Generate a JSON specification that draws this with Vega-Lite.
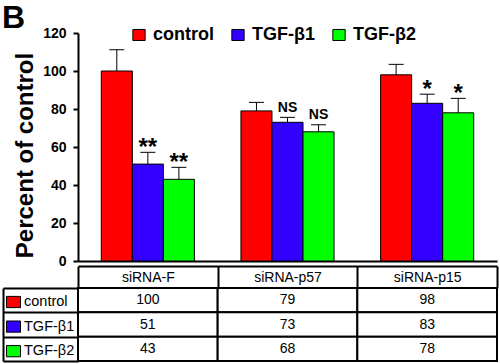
{
  "$schema": "https://vega.github.io/schema/vega-lite/v6.json",
  "padding": {"left": 2, "right": 2, "top": 2, "bottom": 1},
  "title": {"text": "B", "anchor": "start", "frame": "bounds", "fontSize": 32, "fontWeight": "bold", "offset": -9, "color": "black"},
  "config": {
    "font": "Liberation Sans",
    "view": {"stroke": null},
    "axis": {"domainColor": "black", "tickColor": "black", "labelColor": "black", "titleColor": "black", "grid": false},
    "axisY": {"labelOverlap": false}
  },
  "datasets": {
    "bars": [
      {"group": "siRNA-F", "series": "control", "value": 100, "hi": 111.2, "sig": ""},
      {"group": "siRNA-F", "series": "TGF-β1", "value": 51, "hi": 57.2, "sig": "**"},
      {"group": "siRNA-F", "series": "TGF-β2", "value": 43, "hi": 49.3, "sig": "**"},
      {"group": "siRNA-p57", "series": "control", "value": 79, "hi": 83.5, "sig": ""},
      {"group": "siRNA-p57", "series": "TGF-β1", "value": 73, "hi": 75.6, "sig": "NS"},
      {"group": "siRNA-p57", "series": "TGF-β2", "value": 68, "hi": 71.7, "sig": "NS"},
      {"group": "siRNA-p15", "series": "control", "value": 98, "hi": 103.5, "sig": ""},
      {"group": "siRNA-p15", "series": "TGF-β1", "value": 83, "hi": 87.8, "sig": "*"},
      {"group": "siRNA-p15", "series": "TGF-β2", "value": 78, "hi": 85.6, "sig": "*"}
    ]
  },
  "bounds": "flush",
  "spacing": 27,
  "resolve": {"scale": {"color": "independent", "x": "independent", "y": "independent"}, "legend": {"color": "independent"}},
  "vconcat": [
    {
      "width": 419,
      "height": 228,
      "data": {"name": "bars"},
      "encoding": {
        "x": {"field": "group", "type": "nominal", "sort": ["siRNA-F", "siRNA-p57", "siRNA-p15"],
              "scale": {"paddingInner": 0.3333, "paddingOuter": 0.1667},
              "axis": {"title": null, "labels": false, "ticks": false, "domainWidth": 2}},
        "xOffset": {"field": "series", "type": "nominal", "sort": ["control", "TGF-β1", "TGF-β2"],
                    "scale": {"paddingInner": 0, "paddingOuter": 0}}
      },
      "layer": [
        {
          "mark": {"type": "bar", "stroke": "black", "strokeWidth": 1},
          "encoding": {
            "y": {"field": "value", "type": "quantitative",
                  "scale": {"domain": [0, 120], "nice": false},
                  "axis": {"values": [0, 20, 40, 60, 80, 100, 120], "labelOverlap": false, "labelFontSize": 14, "labelFontWeight": "bold",
                           "tickSize": 5, "tickWidth": 2, "labelPadding": 7, "domainWidth": 2,
                           "title": "Percent of control", "titleFontSize": 24, "titleFontWeight": "bold",
                           "titleX": -46, "titleY": 122, "titleBaseline": "alphabetic", "titleAngle": -90, "titleAlign": "center"}},
            "color": {"field": "series", "type": "nominal",
                      "scale": {"domain": ["control", "TGF-β1", "TGF-β2"], "range": ["#ff0000", "#3300ff", "#00ff00"]},
                      "legend": {"orient": "none", "direction": "horizontal", "legendX": 52, "legendY": -7, "title": null,
                                 "symbolType": "M-1,-0.9H1V0.9H-1Z", "symbolSize": 151, "symbolStrokeColor": "black", "symbolStrokeWidth": 1,
                                 "labelFontSize": 18, "labelFontWeight": "bold", "labelOffset": 5, "columnPadding": 15, "padding": 0, "labelColor": "black"}}
          }
        },
        {
          "mark": {"type": "rule", "color": "black", "strokeWidth": 1},
          "encoding": {"y": {"field": "value", "type": "quantitative",
                  "axis": {"values": [0, 20, 40, 60, 80, 100, 120], "labelOverlap": false, "labelFontSize": 14, "labelFontWeight": "bold",
                           "tickSize": 5, "tickWidth": 2, "labelPadding": 7, "domainWidth": 2,
                           "title": "Percent of control", "titleFontSize": 24, "titleFontWeight": "bold",
                           "titleX": -46, "titleY": 122, "titleBaseline": "alphabetic", "titleAngle": -90, "titleAlign": "center"}},
                       "y2": {"field": "hi"}}
        },
        {
          "mark": {"type": "tick", "color": "black", "thickness": 1, "size": 15, "opacity": 1},
          "encoding": {"y": {"field": "hi", "type": "quantitative",
                  "axis": {"values": [0, 20, 40, 60, 80, 100, 120], "labelOverlap": false, "labelFontSize": 14, "labelFontWeight": "bold",
                           "tickSize": 5, "tickWidth": 2, "labelPadding": 7, "domainWidth": 2,
                           "title": "Percent of control", "titleFontSize": 24, "titleFontWeight": "bold",
                           "titleX": -46, "titleY": 122, "titleBaseline": "alphabetic", "titleAngle": -90, "titleAlign": "center"}}}
        },
        {
          "transform": [{"filter": "datum.sig == '**' || datum.sig == '*'"}],
          "mark": {"type": "text", "fontSize": 24, "fontWeight": "bold", "baseline": "alphabetic", "dy": 3, "color": "black"},
          "encoding": {"y": {"field": "hi", "type": "quantitative",
                  "axis": {"values": [0, 20, 40, 60, 80, 100, 120], "labelOverlap": false, "labelFontSize": 14, "labelFontWeight": "bold",
                           "tickSize": 5, "tickWidth": 2, "labelPadding": 7, "domainWidth": 2,
                           "title": "Percent of control", "titleFontSize": 24, "titleFontWeight": "bold",
                           "titleX": -46, "titleY": 122, "titleBaseline": "alphabetic", "titleAngle": -90, "titleAlign": "center"}},
                       "text": {"field": "sig"}}
        },
        {
          "transform": [{"filter": "datum.sig == 'NS'"}],
          "mark": {"type": "text", "fontSize": 14, "fontWeight": "bold", "baseline": "alphabetic", "dy": -5.5, "color": "black"},
          "encoding": {"y": {"field": "hi", "type": "quantitative",
                  "axis": {"values": [0, 20, 40, 60, 80, 100, 120], "labelOverlap": false, "labelFontSize": 14, "labelFontWeight": "bold",
                           "tickSize": 5, "tickWidth": 2, "labelPadding": 7, "domainWidth": 2,
                           "title": "Percent of control", "titleFontSize": 24, "titleFontWeight": "bold",
                           "titleX": -46, "titleY": 122, "titleBaseline": "alphabetic", "titleAngle": -90, "titleAlign": "center"}},
                       "text": {"field": "sig"}}
        }
      ]
    },
    {
      "width": 419,
      "height": 73,
      "data": {"name": "bars"},
      "encoding": {
        "x": {"field": "group", "type": "nominal", "sort": ["siRNA-F", "siRNA-p57", "siRNA-p15"],
              "scale": {"paddingInner": 0, "paddingOuter": 0},
              "axis": {"orient": "top", "title": null, "offset": 22, "domainWidth": 2, "tickWidth": 2, "tickBand": "extent",
                       "tickSize": -22, "labelFontSize": 14, "labelPadding": 11, "labelBaseline": "middle", "labelAngle": 0}},
        "y": {"field": "series", "type": "nominal", "sort": ["control", "TGF-β1", "TGF-β2"],
              "scale": {"paddingInner": 0, "paddingOuter": 0},
              "axis": {"title": null, "offset": 75, "labels": false, "domainWidth": 2, "tickWidth": 2, "tickBand": "extent", "tickSize": -75}}
      },
      "layer": [
        {
          "mark": {"type": "square", "opacity": 1, "stroke": "black", "strokeWidth": 1, "size": 120},
          "encoding": {
            "color": {"field": "series", "type": "nominal",
                      "scale": {"domain": ["control", "TGF-β1", "TGF-β2"], "range": ["#ff0000", "#3300ff", "#00ff00"]},
                      "legend": {"orient": "none", "direction": "vertical", "legendX": -72, "legendY": 6.5, "title": null,
                                 "symbolType": "M-1,-0.8H1V0.8H-1Z", "symbolSize": 196, "symbolStrokeColor": "black", "symbolStrokeWidth": 1,
                                 "labelFontSize": 14.5, "labelOffset": 3, "rowPadding": 7.6, "padding": 0, "labelColor": "black"}}
          }
        },
        {
          "mark": {"type": "rect", "fill": "white", "stroke": "black", "strokeWidth": 2}
        },
        {
          "mark": {"type": "text", "fontSize": 14, "color": "black"},
          "encoding": {"text": {"field": "value", "type": "quantitative"}}
        }
      ]
    }
  ]
}
